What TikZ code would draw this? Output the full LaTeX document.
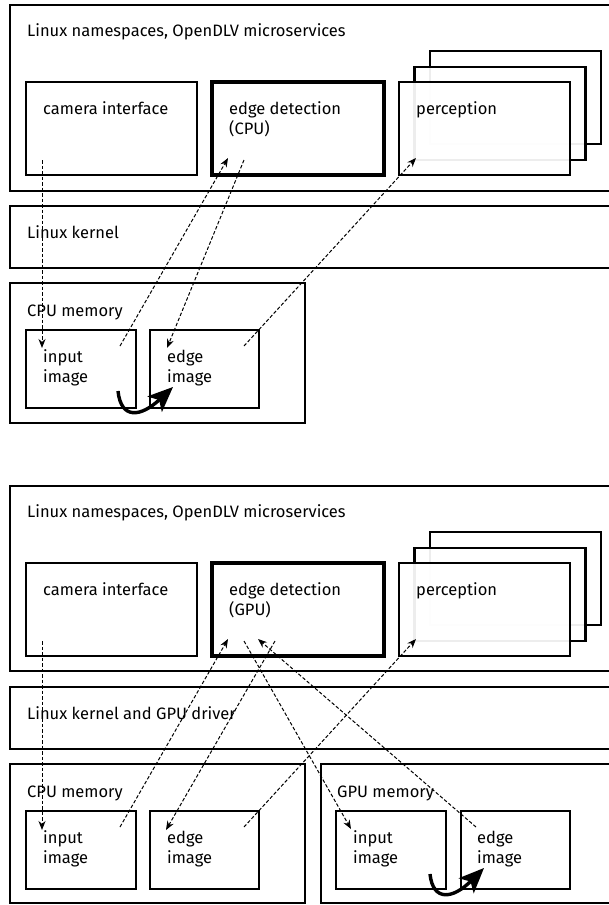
\documentclass[tikz,border=0pt]{standalone}
\usepackage{fontspec}
\setmainfont{Fira Sans}
\usetikzlibrary{arrows.meta}
\begin{document}
\begin{tikzpicture}[x=1pt,y=-1pt,
  lbl/.style={anchor=base west, inner sep=0pt, font=\fontsize{16.5}{20}\selectfont},
  outerline/.style={line width=2.3pt},
  layerline/.style={line width=2.9pt},
  procbox/.style={draw, line width=2.9pt, fill=white, inner sep=0pt, outer sep=0pt, minimum height=93},
  edgebox/.style={procbox, line width=4.4pt},
  percbox/.style={draw, line width=2.6pt, fill=white, fill opacity=0.93, draw opacity=1, inner sep=0pt, outer sep=0pt, minimum width=171, minimum height=93},
  membox/.style={draw, line width=2.3pt, inner sep=0pt, outer sep=0pt},
  imgbox/.style={draw, line width=2.9pt, inner sep=0pt, outer sep=0pt, minimum height=78},
  flow/.style={line width=1pt, dash pattern=on 3.5pt off 2pt, -{Stealth[length=9pt,width=7pt]}},
  copyarrow/.style={line width=3.4pt, -{Stealth[length=25pt,width=21pt,inset=6pt]}}
]
\useasboundingbox (0,0) rectangle (609,905);

% ================= top diagram =================
\draw[outerline] (612,5) -- (10,5) -- (10,191) -- (612,191);
\node[lbl] (ns1) at (27,36) {Linux namespaces, OpenDLV microservices};

\node[procbox, minimum width=171] (cam1) at (111.5,128.5) {};
\node[edgebox, minimum width=172] (edge1) at (298,128.5) {};
\node[percbox] (percC1) at (515.5,97.5) {};
\node[percbox] (percB1) at (500,113.5) {};
\node[percbox] (percA1) at (484.5,128.5) {};
\node[lbl] (camT1) at (43,114) {camera interface};
\node[lbl] (edgeT1) at (229,114) {edge detection};
\node[lbl] (edgeU1) at (229,134) {(CPU)};
\node[lbl] (percT1) at (416,114) {perception};

\draw[layerline] (612,206) -- (10,206) -- (10,268) -- (612,268);
\node[lbl] (kern1) at (27,238) {Linux kernel};

\node[membox, minimum width=295, minimum height=140] (cpumem1) at (157.5,353) {};
\node[lbl] (cpuT1) at (27,316) {CPU memory};
\node[imgbox, minimum width=110] (in1) at (81,369) {};
\node[imgbox, minimum width=109] (ed1) at (204.5,369) {};
\node[lbl] (inT1) at (43,362) {input};
\node[lbl] (inU1) at (43,382) {image};
\node[lbl] (edT1) at (167,362) {edge};
\node[lbl] (edU1) at (167,382) {image};

\coordinate (a1s) at (42,160);   \coordinate (a1e) at (42,348);
\coordinate (a2s) at (120,346);  \coordinate (a2e) at (228,158);
\coordinate (a3s) at (244,160);  \coordinate (a3e) at (167,348);
\coordinate (a4s) at (244,346);  \coordinate (a4e) at (416,158);
\draw[flow] (a1s) -- (a1e);
\draw[flow] (a2s) -- (a2e);
\draw[flow] (a3s) -- (a3e);
\draw[flow] (a4s) -- (a4e);

\coordinate (c1s) at (118,391); \coordinate (c1e) at (173,387);
\draw[copyarrow] (c1s) .. controls (121,420) and (141,417) .. (c1e);

% ================= bottom diagram =================
\draw[outerline] (612,486) -- (10,486) -- (10,671) -- (612,671);
\node[lbl] (ns2) at (27,517) {Linux namespaces, OpenDLV microservices};

\node[procbox, minimum width=171] (cam2) at (111.5,609.5) {};
\node[edgebox, minimum width=172] (edge2) at (298,609.5) {};
\node[percbox] (percC2) at (515.5,578.5) {};
\node[percbox] (percB2) at (500,594.5) {};
\node[percbox] (percA2) at (484.5,609.5) {};
\node[lbl] (camT2) at (43,595) {camera interface};
\node[lbl] (edgeT2) at (229,595) {edge detection};
\node[lbl] (edgeU2) at (229,615) {(GPU)};
\node[lbl] (percT2) at (416,595) {perception};

\draw[layerline] (612,687) -- (10,687) -- (10,749) -- (612,749);
\node[lbl] (kern2) at (27,719) {Linux kernel and GPU driver};

\node[membox, minimum width=295, minimum height=139] (cpumem2) at (157.5,833.5) {};
\node[lbl] (cpuT2) at (27,797) {CPU memory};
\node[imgbox, minimum width=110] (in2) at (81,850) {};
\node[imgbox, minimum width=109] (ed2) at (204.5,850) {};
\node[lbl] (inT2) at (43,843) {input};
\node[lbl] (inU2) at (43,863) {image};
\node[lbl] (edT2) at (167,843) {edge};
\node[lbl] (edU2) at (167,863) {image};

\draw[outerline] (612,764) -- (321,764) -- (321,903) -- (612,903);
\node[lbl] (gpuT2) at (337,797) {GPU memory};
\node[imgbox, minimum width=110] (gin2) at (391,850) {};
\node[imgbox, minimum width=109] (ged2) at (515.5,850) {};
\node[lbl] (ginT2) at (353,843) {input};
\node[lbl] (ginU2) at (353,863) {image};
\node[lbl] (gedT2) at (477,843) {edge};
\node[lbl] (gedU2) at (477,863) {image};

\coordinate (b1s) at (42,641);   \coordinate (b1e) at (42,830);
\coordinate (b2s) at (120,827);  \coordinate (b2e) at (228,639);
\coordinate (b3s) at (275,641);  \coordinate (b3e) at (166,830);
\coordinate (b4s) at (244,827);  \coordinate (b4e) at (416,639);
\coordinate (b5s) at (244,641);  \coordinate (b5e) at (351,829);
\coordinate (b6s) at (476,827);  \coordinate (b6e) at (258,639);
\draw[flow] (b1s) -- (b1e);
\draw[flow] (b2s) -- (b2e);
\draw[flow] (b3s) -- (b3e);
\draw[flow] (b4s) -- (b4e);
\draw[flow] (b5s) -- (b5e);
\draw[flow] (b6s) -- (b6e);

\coordinate (c2s) at (430,874); \coordinate (c2e) at (484,868);
\draw[copyarrow] (c2s) .. controls (433,902) and (453,899) .. (c2e);
\end{tikzpicture}
\end{document}
